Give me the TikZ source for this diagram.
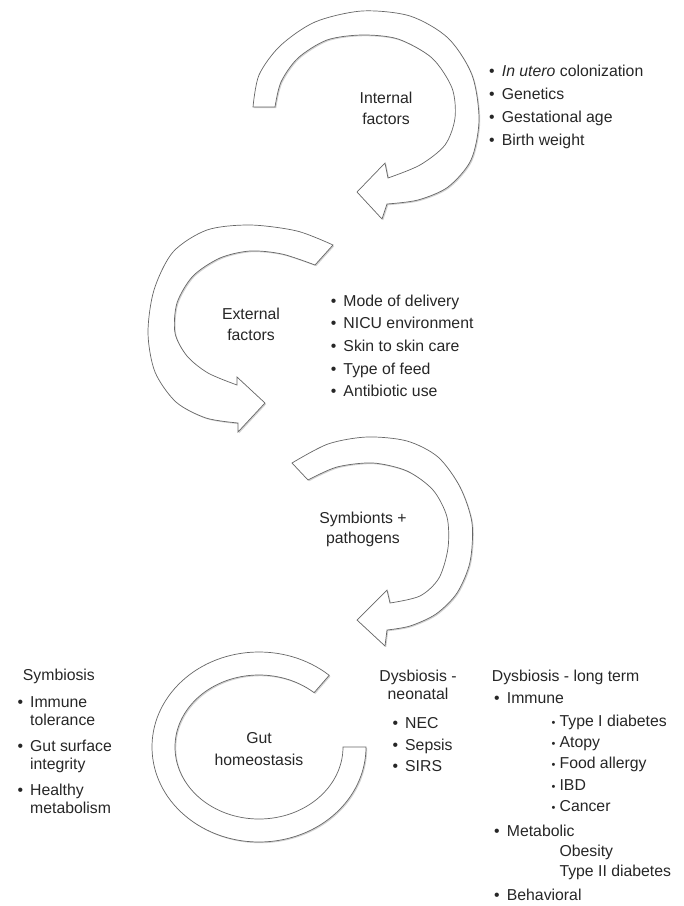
\documentclass[tikz,border=0pt]{standalone}
\usepackage{fontspec}
\setmainfont{Liberation Sans}
\usetikzlibrary{shadows}
\tikzset{
  band/.style={fill=white, draw=black!60, line width=0.7pt,
    drop shadow={shadow xshift=1.2pt, shadow yshift=-1.2pt, opacity=0.3, fill=black!60}},
  label/.style={align=center, inner sep=0pt, anchor=base, text=black!85,
    font=\fontsize{15.8}{21}\selectfont},
  item/.style={anchor=base west, inner sep=0pt, text=black!85, align=left,
    font=\fontsize{15.8}{18}\selectfont}
}
\newcommand{\blt}{\makebox[12.7pt][l]{•}}
\newcommand{\sblt}{\makebox[8pt][l]{\fontsize{11}{11}\selectfont •}}

\begin{document}
\begin{tikzpicture}[x=1pt, y=-1pt]
\useasboundingbox (0,0) rectangle (684,906);

% internal factors
\draw[band] plot[smooth] coordinates {(253,107) (259,75) (280,46) (315,22) (362,11) (410,16) (448,38) (472,75) (479,120) (471,160) (448,187) (418,200) (387,204)}
  -- (382,219) -- (357,192) -- (385,163)
  -- plot[smooth] coordinates {(388,178) (420,165) (445,145) (455,118) (452,88) (432,58) (398,39) (362,35) (327,40) (298,58) (281,82) (275,107)} -- cycle;

% external factors
\draw[band] plot[smooth] coordinates {(333,245) (297,231) (250,225) (207,230) (173,252) (154,290) (148,333) (155,372) (176,402) (206,418) (238,423)}
  -- (238,432) -- (265,403) -- (237,377)
  -- plot[smooth] coordinates {(237,385) (208,373) (187,356) (175,333) (177,303) (193,276) (220,258) (250,251) (282,254) (315,265)} -- cycle;

% symbionts + pathogens
\draw[band] plot[smooth] coordinates {(292,463) (328,444) (367,437) (407,441) (438,457) (460,487) (472,523) (470,562) (457,593) (436,614) (410,626) (387,630)}
  -- (385,646) -- (357,620) -- (387,590)
  -- plot[smooth] coordinates {(390,603) (420,596) (439,578) (448,548) (447,517) (433,490) (407,471) (373,463) (337,467) (308,480)} -- cycle;

% gut homeostasis
\draw[band] (329.2,675.3) arc[start angle=-49, end angle=-360, x radius=107, y radius=95]
  -- (343,747) arc[start angle=-360, end angle=-49, x radius=84, y radius=72] -- cycle;

\node[label] (intl) at (386,124) {Internal\\factors};
\node[label] (extl) at (251,340.5) {External\\factors};
\node[label, font=\fontsize{15.8}{20}\selectfont] (syml) at (363,543.3) {Symbionts +\\pathogens};
\node[label, font=\fontsize{15.8}{21.7}\selectfont] (gutl) at (259,765) {Gut\\homeostasis};

\foreach \txt [count=\i] in {{\textit{In utero} colonization},Genetics,Gestational age,Birth weight}
  \node[item] (intf\i) at (489,{76.7+22.8*(\i-1)}) {\blt\txt};

\foreach \txt [count=\i] in {Mode of delivery,NICU environment,Skin to skin care,Type of feed,Antibiotic use}
  \node[item] (extf\i) at (330.6,{306+22.7*(\i-1)}) {\blt\txt};

\node[label, font=\fontsize{15.8}{18}\selectfont] (neo) at (418,699.7) {Dysbiosis -\\neonatal};
\foreach \txt [count=\i] in {NEC,Sepsis,SIRS}
  \node[item] (neo\i) at (392.3,{728.3+21.7*(\i-1)}) {\blt\txt};

\node[item] (long) at (491.7,681.7) {Dysbiosis - long term};
\node[item] (imm) at (494,703.3) {\blt Immune};
\foreach \txt [count=\i] in {Type I diabetes,Atopy,Food allergy,IBD,Cancer}
  \node[item] (imm\i) at (551.4,{726+21.4*(\i-1)}) {\sblt\txt};
\node[item] (met) at (494,836.7) {\blt Metabolic};
\node[item] (met1) at (559.3,856.3) {Obesity};
\node[item] (met2) at (559.3,876.7) {Type II diabetes};
\node[item] (beh) at (494,900) {\blt Behavioral};

\node[item] (sym) at (22.7,680) {Symbiosis};
\node[item] (sym1) at (17.3,725) {\blt Immune\\\hspace*{12.7pt}tolerance};
\node[item] (sym2) at (17.3,769) {\blt Gut surface\\\hspace*{12.7pt}integrity};
\node[item] (sym3) at (17.3,813) {\blt Healthy\\\hspace*{12.7pt}metabolism};
\end{tikzpicture}
\end{document}
